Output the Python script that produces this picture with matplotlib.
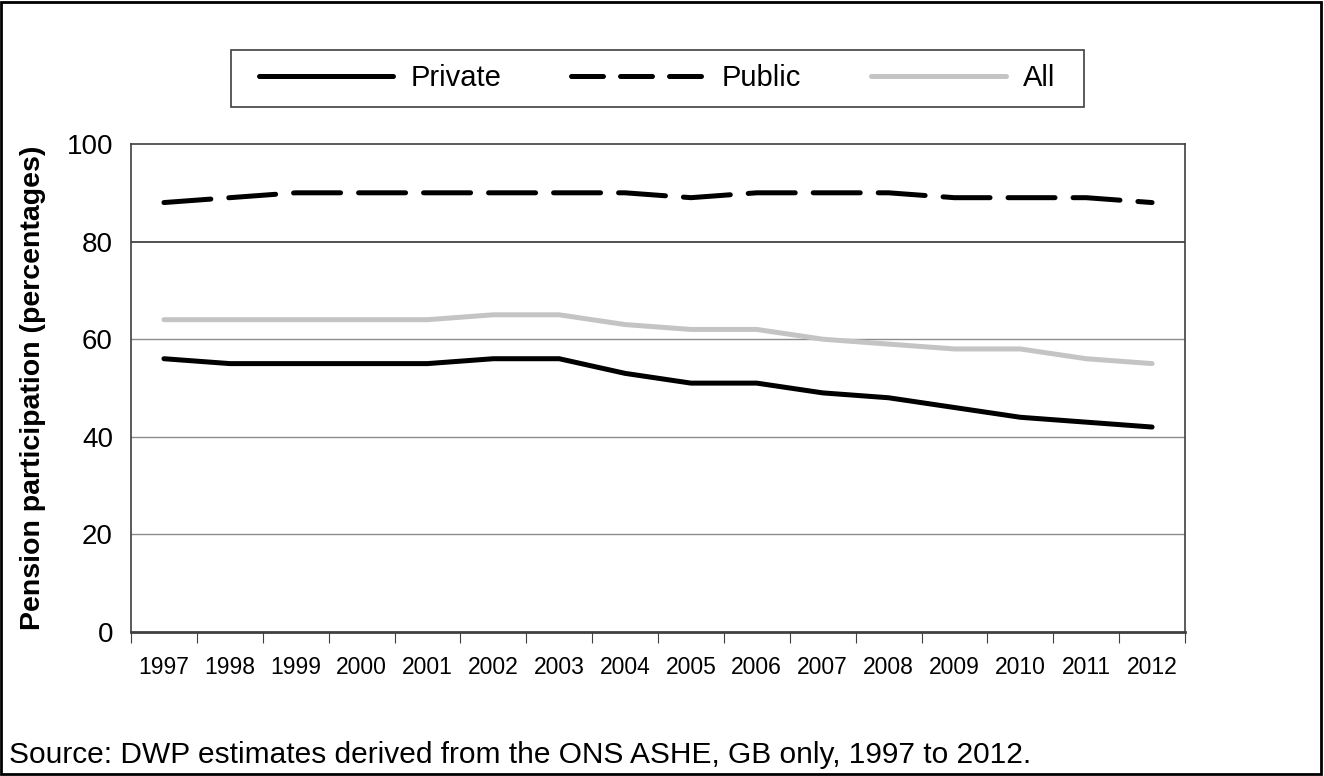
import matplotlib.pyplot as plt
from matplotlib.patches import Rectangle
from matplotlib.lines import Line2D

plt.rcParams['font.family'] = ['Liberation Sans', 'DejaVu Sans']

# data
years = ['1997', '1998', '1999', '2000', '2001', '2002', '2003', '2004',
         '2005', '2006', '2007', '2008', '2009', '2010', '2011', '2012']
private = [56, 55, 55, 55, 55, 56, 56, 53, 51, 51, 49, 48, 46, 44, 43, 42]
public = [88, 89, 90, 90, 90, 90, 90, 90, 89, 90, 90, 90, 89, 89, 89, 88]
all_sectors = [64, 64, 64, 64, 64, 65, 65, 63, 62, 62, 60, 59, 58, 58, 56, 55]

fig = plt.figure(figsize=(13.24, 7.76), dpi=100)
ax = fig.add_axes([131 / 1324, 1 - 632 / 776, (1185 - 131) / 1324, (632 - 144) / 776])

LW = 3.6
x = range(len(years))
ax.plot(x, private, color='black', lw=LW, solid_capstyle='round', solid_joinstyle='round')
ax.plot(x, public, color='black', lw=LW, dashes=(9.4, 3.6), dash_capstyle='round')
ax.plot(x, all_sectors, color='#c4c4c4', lw=LW, solid_capstyle='round', solid_joinstyle='round')

ax.set_ylim(0, 100)
ax.set_xlim(-0.5, len(years) - 0.5)
ax.set_yticks([0, 20, 40, 60, 80, 100])
ax.tick_params(axis='y', length=0, labelsize=20, pad=13)
for v in [20, 40, 60]:
    ax.axhline(v, color='#8c8c8c', lw=1, zorder=0)
ax.axhline(80, color='#333333', lw=1.2, zorder=0)

# category axis: ticks between years, labels centred
ax.set_xticks([i - 0.5 for i in range(len(years) + 1)])
ax.set_xticklabels([])
ax.set_xticks(list(x), minor=True)
ax.set_xticklabels(years, minor=True, fontsize=16.5)
ax.tick_params(axis='x', which='major', direction='out', length=8, color='#404040')
ax.tick_params(axis='x', which='minor', length=0, pad=17)

for s in ax.spines.values():
    s.set_color('#404040')
    s.set_linewidth(1.2)
ax.spines['bottom'].set_linewidth(2)

ax.set_ylabel('Pension participation (percentages)', fontsize=20.5, fontweight='bold')
ax.yaxis.set_label_coords(46 / 1324, 0.5, transform=fig.transFigure)

handles = [
    Line2D([], [], color='black', lw=LW, solid_capstyle='round'),
    Line2D([], [], color='black', lw=LW, dashes=(6.4, 3.4), dash_capstyle='round'),
    Line2D([], [], color='#c4c4c4', lw=LW, solid_capstyle='round'),
]
fig.legend(handles, ['Private', 'Public', 'All'], loc='center',
           bbox_to_anchor=(657 / 1324, 1 - 78.5 / 776), ncol=3, fontsize=21,
           frameon=False, handlelength=4.6, columnspacing=2.4, handletextpad=0.58)
fig.patches.append(Rectangle((231 / 1324, 1 - 107 / 776), 853 / 1324, 57 / 776,
                             transform=fig.transFigure, fill=False,
                             edgecolor='#404040', lw=1.2))

fig.text(9 / 1324, 1 - 763 / 776,
         'Source: DWP estimates derived from the ONS ASHE, GB only, 1997 to 2012.',
         fontsize=21.5, va='baseline')

fig.patches.append(Rectangle((0.001, 0.002), 0.997, 0.996, transform=fig.transFigure,
                             fill=False, edgecolor='black', lw=2))

fig.savefig('out.png', dpi=100)
